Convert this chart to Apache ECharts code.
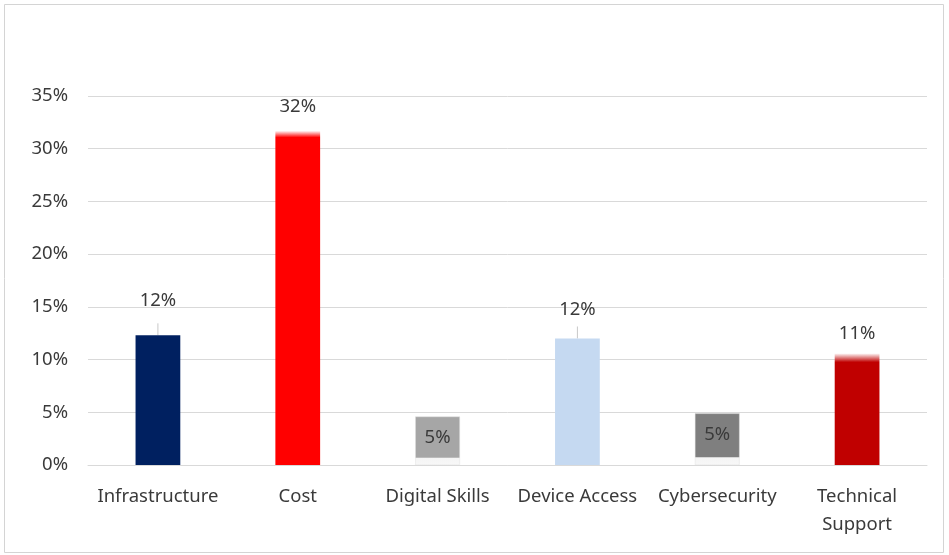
<!DOCTYPE html>
<html>
<head>
<meta charset="utf-8">
<script src="https://cdn.jsdelivr.net/npm/echarts@6/dist/echarts.min.js"></script>
<style>
  html, body { margin: 0; padding: 0; background: #fff; }
  #chart { width: 949px; height: 555px; }
</style>
</head>
<body>
<div id="chart"></div>
<script>
// Share of respondents citing each barrier (%)
const categories = ['Infrastructure', 'Cost', 'Digital Skills', 'Device Access', 'Cybersecurity', 'Technical\nSupport'];
const values = [12.3, 31.7, 4.6, 12.0, 4.9, 10.6];
const barColors = ['#002060', '#FF0000', '#A6A6A6', '#C5D9F1', '#7F7F7F', '#C00000'];
const yTicks = [0, 5, 10, 15, 20, 25, 30, 35];

const FONT = '"Noto Sans", "Open Sans", sans-serif';
const TEXT = '#3a3a3a';
const FS = 18.5;

// Fill styles: soft fade at the top of the red bars, pale base on the grey ones
function fillFor(i) {
  const c = barColors[i];
  if (i === 1 || i === 5) {
    return new echarts.graphic.LinearGradient(0, 0, 0, 1, [
      { offset: 0, color: '#ffffff' },
      { offset: i === 1 ? 0.02 : 0.08, color: c },
      { offset: 1, color: c }
    ]);
  }
  if (i === 2 || i === 4) {
    return new echarts.graphic.LinearGradient(0, 0, 0, 1, [
      { offset: 0, color: c },
      { offset: 0.84, color: c },
      { offset: 0.86, color: '#f4f4f4' },
      { offset: 1, color: '#f8f8f8' }
    ]);
  }
  return c;
}

// Gap between each outside label and its bar top
const labelGap = [25, 15, 0, 19, 0, 10];

const data = values.map((v, i) => {
  const inside = (i === 2 || i === 4);
  return {
    value: v,
    itemStyle: { color: fillFor(i), borderColor: inside ? '#e0e0e0' : null, borderWidth: inside ? 0.5 : 0 },
    label: inside
      ? { position: 'insideTop', distance: 12 }
      : { position: 'top', distance: labelGap[i] }
  };
});

const chart = echarts.init(document.getElementById('chart'), null, { renderer: 'canvas' });
chart.setOption({
  animation: false,
  backgroundColor: '#ffffff',
  graphic: [{
    type: 'rect',
    shape: { x: 4.5, y: 4.5, width: 939, height: 548 },
    style: { fill: 'none', stroke: '#d4d4d4', lineWidth: 1 },
    silent: true
  }, {
    type: 'group',
    silent: true,
    children: []
  }],
  grid: { left: 88, right: 22, top: 96, bottom: 90 },
  xAxis: {
    type: 'category',
    data: categories,
    axisTick: { show: false },
    axisLine: { lineStyle: { color: '#d9d9d9', width: 1 } },
    axisLabel: {
      color: TEXT, fontFamily: FONT, fontSize: FS, margin: 18, lineHeight: 28, interval: 0
    }
  },
  yAxis: {
    type: 'value',
    min: yTicks[0],
    max: yTicks[yTicks.length - 1],
    interval: 5,
    axisLine: { show: false },
    axisTick: { show: false },
    splitLine: { lineStyle: { color: '#d9d9d9', width: 1 } },
    axisLabel: {
      color: TEXT, fontFamily: FONT, fontSize: FS, margin: 20,
      formatter: v => v + '%'
    }
  },
  series: [{
    type: 'bar',
    data: data,
    barWidth: '32%',
    label: {
      show: true,
      color: TEXT,
      fontFamily: FONT,
      fontSize: FS,
      formatter: p => Math.round(p.value) + '%'
    }
  }]
});

// Leader ticks from the floating labels down to the bar tops
const leaders = [0, 3].map(i => {
  const top = chart.convertToPixel({ seriesIndex: 0 }, [i, values[i]]);
  return {
    type: 'line',
    silent: true,
    shape: { x1: top[0], y1: top[1] - 12, x2: top[0], y2: top[1] },
    style: { stroke: '#c8c8c8', lineWidth: 1 }
  };
});
chart.setOption({ graphic: [{}, { type: 'group', children: leaders }] });
</script>
</body>
</html>
